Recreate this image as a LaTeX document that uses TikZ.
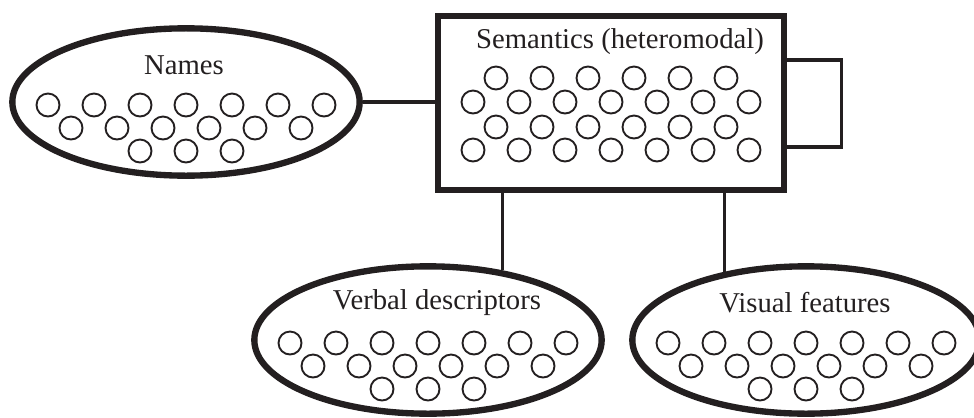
\documentclass[tikz,border=0pt]{standalone}
\usepackage{fontspec}
\setmainfont{Liberation Serif}
\usepackage{xcolor}
\definecolor{diaInk}{HTML}{231F20}
\usepackage{tikz}
\usetikzlibrary{shapes,positioning}
\tikzset{
    module/.style={
        draw=diaInk,
        ellipse,
        line width=0.19cm,
        minimum width=10.42cm,
        minimum height=4.42cm,
        inner sep=0pt
    },
    hub/.style={
        draw=diaInk,
        rectangle,
        line width=0.2cm,
        minimum width=10.38cm,
        minimum height=5.22cm,
        inner sep=0pt
    },
    unit/.style={
        draw=diaInk,
        circle,
        line width=1.6pt,
        minimum size=0.69cm,
        inner sep=0pt
    },
    title/.style={
        font=\fontsize{24.5}{28}\selectfont,
        text=diaInk,
        inner sep=0pt
    },
    link/.style={
        draw=diaInk,
        line width=2.8pt
    }
}

\begin{document}
\begin{tikzpicture}[x=0.03cm, y=-0.03cm]
    \useasboundingbox (0,0) rectangle (974,417);

    % semantic hub
    \node[hub] (sem) at (611,103) {};
    \node[title] (sem-lbl) at ([shift={(9,-61)}]sem.center) {Semantics (heteromodal)};
    \foreach \i in {0,...,5} {
        \node[unit] (sem-a\i) at ([shift={(-115+46*\i,-25)}]sem.center) {};
        \node[unit] (sem-c\i) at ([shift={(-115+46*\i,24)}]sem.center) {};
    }
    \foreach \i in {0,...,6} {
        \node[unit] (sem-b\i) at ([shift={(-138+46*\i,-1)}]sem.center) {};
        \node[unit] (sem-d\i) at ([shift={(-138+46*\i,47)}]sem.center) {};
    }

    % spokes
    \node[module] (names) at (186,102) {};
    \node[module] (verbal) at (428,340) {};
    \node[module] (visual) at (806,340) {};
    \node[title] (names-lbl) at ([shift={(-2,-37)}]names.center) {Names};
    \node[title] (verbal-lbl) at ([shift={(9,-37)}]verbal.center) {Verbal descriptors};
    \node[title] (visual-lbl) at ([shift={(-1,-37)}]visual.center) {Visual features};
    \foreach \m in {names,verbal,visual} {
        \foreach \i in {0,...,6}
            \node[unit] (\m-a\i) at ([shift={(-138+46*\i,3)}]\m.center) {};
        \foreach \i in {0,...,5}
            \node[unit] (\m-b\i) at ([shift={(-115+46*\i,26)}]\m.center) {};
        \foreach \i in {0,...,2}
            \node[unit] (\m-c\i) at ([shift={(-46+46*\i,49)}]\m.center) {};
    }

    \draw[link] (names.east) -- (sem.west |- names.east);
    \draw[link] (verbal.43) -- (verbal.43 |- sem.south);
    \draw[link] (visual.140) -- (visual.140 |- sem.south);
    \draw[link] ([shift={(0,-43)}]sem.east) -- ++(54,0) |- ([shift={(0,44)}]sem.east);
\end{tikzpicture}
\end{document}
